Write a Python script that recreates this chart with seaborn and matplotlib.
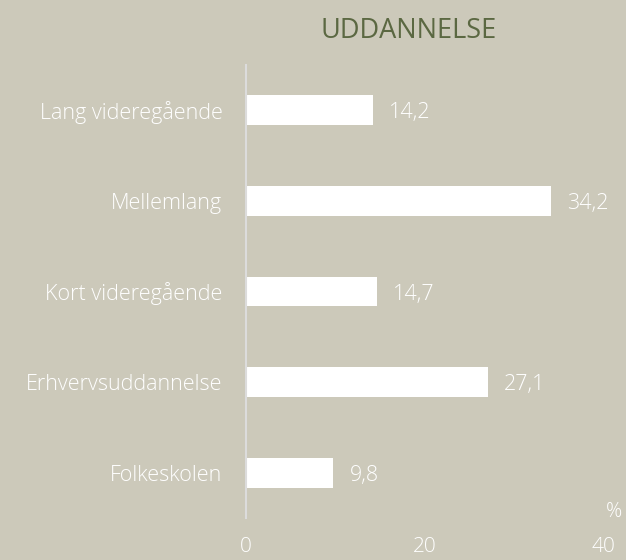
import matplotlib
matplotlib.use("Agg")
import matplotlib.pyplot as plt
import seaborn as sns
import pandas as pd

categories = ["Lang videregående", "Mellemlang", "Kort videregående", "Erhvervsuddannelse", "Folkeskolen"]
values = [14.2, 34.2, 14.7, 27.1, 9.8]
value_labels = ["14,2", "34,2", "14,7", "27,1", "9,8"]
xticks = [0, 20, 40]
title = "UDDANNELSE"

bg = "#CCC9BA"
sns.set_theme(style="white")
plt.rcParams['font.family'] = ['Open Sans', 'DejaVu Sans']

fig = plt.figure(figsize=(6.26, 5.6), dpi=100, facecolor=bg)
W, H = 626, 560
ax = fig.add_axes([246 / W, 1 - 518 / H, (603 - 246) / W, (518 - 65) / H])
ax.set_facecolor(bg)

df = pd.DataFrame({"cat": categories, "val": values})
sns.barplot(data=df, y="cat", x="val", orient="h", color="white", width=0.33,
            saturation=1, ax=ax, edgecolor="none")

ax.set_xlim(0, 40)
ax.set_ylim(4.5, -0.5)
for s in ["top", "right", "bottom"]:
    ax.spines[s].set_visible(False)
ax.spines["left"].set_color("#DCDCDC")
ax.spines["left"].set_linewidth(1.5)
ax.set_xlabel("")
ax.set_ylabel("")
ax.set_xticks(xticks)
ax.set_xticklabels([str(t) for t in xticks], color="white", fontsize=15, fontweight="light")
ax.tick_params(axis="x", length=0, pad=14)
ax.tick_params(axis="y", length=0, pad=17, labelsize=15.5, labelcolor="white")
for t in ax.get_yticklabels():
    t.set_fontweight("light")

for i, (v, lab) in enumerate(zip(values, value_labels)):
    ax.annotate(lab, xy=(v, i), xytext=(16, 0), textcoords="offset pixels",
                va="center_baseline", ha="left", color="white", fontsize=15.5, fontweight="light")

fig.text(606 / W, 1 - 512 / H, "%", color="white", fontsize=14.5, ha="left", va="center", fontweight="light")
fig.text(409 / W, 1 - 31 / H, title, color="#5B6842", fontsize=19.5, ha="center", va="center", fontweight="normal")

fig.savefig("out.png", dpi=100, facecolor=bg)
